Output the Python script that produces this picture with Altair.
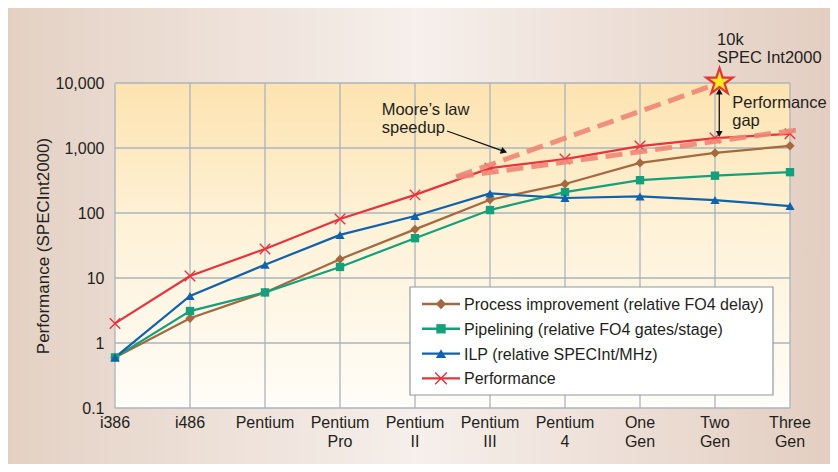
import altair as alt
import pandas as pd

# ---------------- data ----------------
categories = ["i386", "i486", "Pentium", "Pentium Pro", "Pentium II", "Pentium III",
              "Pentium 4", "One Gen", "Two Gen", "Three Gen"]
process = [0.6, 2.4, 6.0, 19.5, 56, 160, 280, 590, 840, 1080]
pipelining = [0.6, 3.1, 6.0, 14.8, 41, 111, 210, 320, 375, 425]
ilp = [0.6, 5.3, 16, 46, 90, 200, 170, 180, 158, 128]
performance = [2.0, 10.7, 28, 81, 190, 490, 676, 1070, 1420, 1650]

series_names = ["Process improvement (relative FO4 delay)",
                "Pipelining (relative FO4 gates/stage)",
                "ILP (relative SPECInt/MHz)",
                "Performance"]
series_values = [process, pipelining, ilp, performance]
series_colors = ["#a5683f", "#13a07b", "#0f62ab", "#e8323c"]

y_ticks = [0.1, 1, 10, 100, 1000, 10000]

# Moore's law projections (x in category index units)
moore_upper_x = [4.55, 7.95]
moore_upper_v = [360, 9000]
moore_lower_x = [4.56, 9.09]
moore_lower_v = [358, 1890]

# annotations
star_x, star_v = 8.06, 10400
gap_x, gap_top, gap_bottom = 8.057, 7400, 1642
moore_arrow = dict(x=4.427, v=1827, x2=5.187, v2=884)
note_x = [3.556, 3.556, 8.027, 8.027, 8.23, 8.23]
note_v = [3220, 1700, 38450, 20300, 4124, 2180]
note_text = ["Moore\u2019s law", "speedup", "10k", "SPEC Int2000", "Performance", "gap"]

FONT = "Liberation Sans"
TXT = "#231f20"
GRID = "#a9b4bf"
W, H = 675, 325

STAR = ("M0,-1L0.225,-0.309L0.951,-0.309L0.363,0.118L0.588,0.809L0,0.382"
        "L-0.588,0.809L-0.363,0.118L-0.951,-0.309L-0.225,-0.309Z")
XPATH = "M-1,-1L1,1M-1,1L1,-1"

# ---------------- encodings ----------------
X = alt.X("x:Q", scale=alt.Scale(domain=[0, 9], nice=False, zero=False),
          axis=alt.Axis(values=list(range(10)), labels=False, grid=False,
                        ticks=False, domain=False, title=None))
Y = alt.Y("v:Q", scale=alt.Scale(type="log", domain=[0.1, 10000], nice=False),
          axis=alt.Axis(values=y_ticks,
                        labelExpr="datum.value < 1 ? '0.1' : format(datum.value, ',')",
                        grid=False, ticks=False, domain=False, zindex=2,
                        labelPadding=11, title="Performance (SPECInt2000)",
                        titlePadding=3))

one = pd.DataFrame({"a": [0]})

outer_bg = alt.Chart(one).mark_rect(
    fill=alt.Gradient(gradient="linear", x1=0, x2=1, y1=0, y2=0,
                      stops=[alt.GradientStop(color="#e4d1c4", offset=0),
                             alt.GradientStop(color="#f6efeb", offset=0.5),
                             alt.GradientStop(color="#e3cec1", offset=1)])
).encode(x=alt.value(-107), x2=alt.value(W + 40), y=alt.value(-75), y2=alt.value(H + 56))

plot_bg = alt.Chart(one).mark_rect(
    fill=alt.Gradient(gradient="linear", x1=0, x2=0, y1=0, y2=1,
                      stops=[alt.GradientStop(color="#fde3b0", offset=0),
                             alt.GradientStop(color="#fef2d8", offset=0.45),
                             alt.GradientStop(color="#fffdf8", offset=1)])
).encode(x=alt.value(0), x2=alt.value(W), y=alt.value(0), y2=alt.value(H))

hgrid = alt.Chart(pd.DataFrame({"v": y_ticks})).mark_rule(
    color=GRID, strokeWidth=1.3).encode(y=Y)
vgrid = alt.Chart(pd.DataFrame({"x": list(range(10))})).mark_rule(
    color=GRID, strokeWidth=1.3).encode(x=X)

# category labels (two lines)
lab1 = [c.split(" ")[0] for c in categories]
lab2 = [c.split(" ")[1] if " " in c else "" for c in categories]
cat_df = pd.DataFrame({"x": list(range(10)), "l1": lab1, "l2": lab2})
cat1 = alt.Chart(cat_df).mark_text(baseline="alphabetic", font=FONT, fontSize=16,
                                   color=TXT).encode(x=X, y=alt.value(H + 20), text="l1:N")
cat2 = alt.Chart(cat_df).mark_text(baseline="alphabetic", font=FONT, fontSize=16,
                                   color=TXT).encode(x=X, y=alt.value(H + 39), text="l2:N")

rows = []
for name, vals in zip(series_names, series_values):
    for i, v in enumerate(vals):
        rows.append({"series": name, "x": i, "v": v})
df = pd.DataFrame(rows)

lines = alt.Chart(df).mark_line(strokeWidth=2.2).encode(
    x=X, y=Y,
    color=alt.Color("series:N", scale=alt.Scale(domain=series_names, range=series_colors),
                    legend=None))

marker_specs = [
    dict(shape="diamond", filled=True, size=85),
    dict(shape="square", filled=True, size=70),
    dict(shape="triangle-up", filled=True, size=85),
    dict(shape=XPATH, filled=False, size=110, strokeWidth=1.4),
]
point_layers = []
for name, col, spec in zip(series_names, series_colors, marker_specs):
    sub = df[df["series"] == name]
    point_layers.append(
        alt.Chart(sub).mark_point(color=col, opacity=1, **spec).encode(x=X, y=Y))

moore_df = pd.DataFrame({
    "x": moore_upper_x + moore_lower_x,
    "v": moore_upper_v + moore_lower_v,
    "g": ["up", "up", "low", "low"]})
moore = alt.Chart(moore_df).mark_line(
    color="#ee8676", strokeWidth=5, strokeDash=[17, 8], opacity=0.9).encode(
    x=X, y=Y, detail="g:N")

star = alt.Chart(pd.DataFrame({"x": [star_x], "v": [star_v]})).mark_point(
    shape=STAR, filled=True, fill="#ffe924", stroke="#e5323b", strokeWidth=2.2,
    size=780, opacity=1).encode(x=X, y=Y)

gap_rule = alt.Chart(pd.DataFrame({"x": [gap_x], "v": [gap_top], "v2": [gap_bottom]})).mark_rule(
    color="#111111", strokeWidth=1.3).encode(x=X, y=Y, y2="v2:Q")
gap_up = alt.Chart(pd.DataFrame({"x": [gap_x], "v": [gap_top]})).mark_point(
    shape="triangle-up", filled=True, color="#111111", size=45, opacity=1).encode(x=X, y=Y)
gap_down = alt.Chart(pd.DataFrame({"x": [gap_x], "v": [gap_bottom]})).mark_point(
    shape="triangle-down", filled=True, color="#111111", size=45, opacity=1).encode(x=X, y=Y)

ma = pd.DataFrame([moore_arrow])
m_rule = alt.Chart(ma).mark_rule(color="#111111", strokeWidth=1.3).encode(
    x=X, y=Y, x2="x2:Q", y2="v2:Q")
m_head = alt.Chart(pd.DataFrame({"x": [moore_arrow["x2"]], "v": [moore_arrow["v2"]]})).mark_point(
    shape="triangle-right", filled=True, color="#111111", size=55, angle=20,
    opacity=1).encode(x=X, y=Y)

texts = alt.Chart(pd.DataFrame({"x": note_x, "v": note_v, "t": note_text})).mark_text(
    align="left", baseline="alphabetic", font=FONT, fontSize=16.5, color=TXT).encode(
    x=X, y=Y, text="t:N")

# ---------------- legend ----------------
LX0, LX1, LY0, LY1 = 295, 658, 204, 312
legend_layers = [alt.Chart(one).mark_rect(fill="white", stroke="#8e9aa6", strokeWidth=1.2).encode(
    x=alt.value(LX0), x2=alt.value(LX1), y=alt.value(LY0), y2=alt.value(LY1))]
for i, (name, col, spec) in enumerate(zip(series_names, series_colors, marker_specs)):
    yy = 221 + 24.8 * i
    legend_layers.append(alt.Chart(one).mark_rule(color=col, strokeWidth=2.4).encode(
        x=alt.value(307), x2=alt.value(345), y=alt.value(yy)))
    sp = dict(spec)
    sp["size"] = sp["size"] * 1.25
    legend_layers.append(alt.Chart(one).mark_point(color=col, opacity=1, **sp).encode(
        x=alt.value(326), y=alt.value(yy)))
    legend_layers.append(alt.Chart(one).mark_text(
        align="left", baseline="middle", font=FONT, fontSize=16, color=TXT).encode(
        x=alt.value(349), y=alt.value(yy + 1), text=alt.value(name)))

chart = alt.layer(
    outer_bg, plot_bg, hgrid, vgrid, cat1, cat2, lines, *point_layers, moore, gap_rule,
    gap_up, gap_down, star, m_rule, m_head, texts, *legend_layers
).properties(
    width=W, height=H,
    autosize=alt.AutoSizeParams(type="none"),
    padding={"left": 107, "top": 75, "right": 40, "bottom": 56},
    background="#f3ece7",
).configure_view(stroke=None).configure_axis(
    labelFont=FONT, labelFontSize=16, labelColor=TXT,
    titleFont=FONT, titleFontSize=17, titleFontWeight="normal", titleColor=TXT)

chart.save("out.html", embed_options={"renderer": "svg", "actions": False})
